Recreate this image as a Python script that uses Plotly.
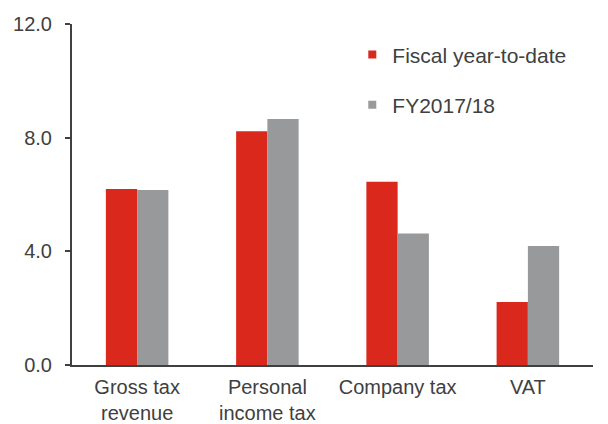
import plotly.graph_objects as go

categories = ["Gross tax<br>revenue", "Personal<br>income tax", "Company tax", "VAT"]
fiscal_ytd = [6.19, 8.23, 6.45, 2.22]
fy2017_18 = [6.16, 8.66, 4.63, 4.19]
y_ticks = [0, 4, 8, 12]
series_names = ["Fiscal year-to-date", "FY2017/18"]

RED = "#DA291C"
GREY = "#98999B"
TEXT = "#404040"
FONT = "Liberation Sans, Arial, sans-serif"

fig = go.Figure()
for name, values, color in zip(series_names, [fiscal_ytd, fy2017_18], [RED, GREY]):
    fig.add_trace(go.Bar(
        name=name, x=categories, y=values,
        marker=dict(color=color, line=dict(width=0)),
        showlegend=False,
    ))

# Legend entries with small square swatches
for i, (name, color) in enumerate(zip(series_names, [RED, GREY])):
    fig.add_trace(go.Scatter(
        name=name, x=[None], y=[None], mode="markers",
        marker=dict(symbol="square", size=8, color=color),
        legendgroup=f"g{i}", showlegend=True,
    ))

fig.update_layout(
    width=608, height=424,
    margin=dict(l=72, r=15, t=24, b=59, autoexpand=False),
    paper_bgcolor="white", plot_bgcolor="white",
    barmode="group", bargap=0.52, bargroupgap=0,
    font=dict(family=FONT, size=21, color=TEXT),
    showlegend=True,
    legend=dict(
        x=0.538, y=0.97, xanchor="left", yanchor="top",
        traceorder="grouped", tracegroupgap=20,
        bgcolor="rgba(0,0,0,0)", font=dict(size=21, color=TEXT),
    ),
    xaxis=dict(
        showline=True, linecolor=TEXT, linewidth=2,
        ticks="", showgrid=False, tickfont=dict(size=20, color=TEXT),
        ticklabelstandoff=3, automargin=False,
    ),
    yaxis=dict(
        range=[0, 12], tickvals=y_ticks, tickformat=".1f",
        showline=True, linecolor=TEXT, linewidth=2,
        ticks="outside", ticklen=5, tickcolor=TEXT, tickwidth=2,
        showgrid=False, zeroline=False, tickfont=dict(size=20, color=TEXT),
        ticklabelstandoff=9, automargin=False,
    ),
)

fig.write_html("out.html")
